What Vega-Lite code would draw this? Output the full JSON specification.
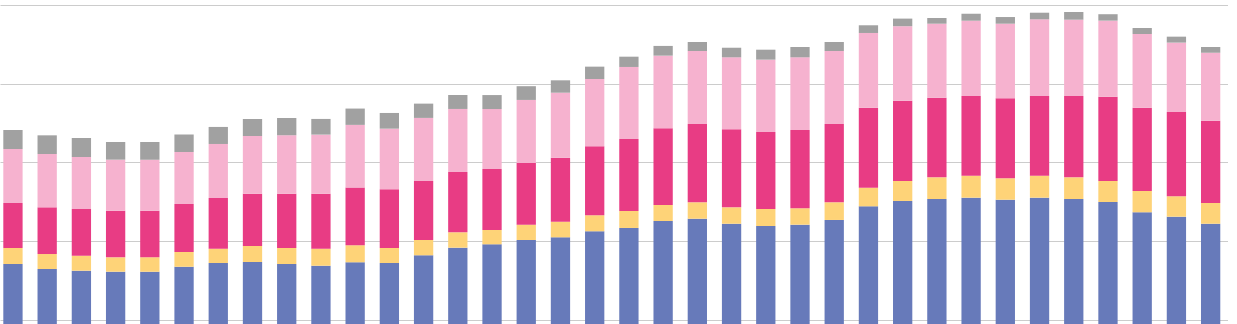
{
  "$schema": "https://vega.github.io/schema/vega-lite/v6.json",
  "width": 1228,
  "height": 324,
  "autosize": "none",
  "padding": 0,
  "background": "white",
  "config": {"view": {"stroke": null}},
  "data": {"values": [
    {"i": 1, "s1": 170.7, "s2": 20.4, "s3": 57.3, "s4": 68.8, "s5": 24.2},
    {"i": 2, "s1": 164.3, "s2": 19.1, "s3": 59.5, "s4": 67.9, "s5": 23.8},
    {"i": 3, "s1": 162.2, "s2": 19.1, "s3": 59.5, "s4": 66.2, "s5": 24.2},
    {"i": 4, "s1": 160.9, "s2": 18.3, "s3": 59.4, "s4": 65.0, "s5": 22.5},
    {"i": 5, "s1": 160.9, "s2": 18.3, "s3": 59.4, "s4": 65.0, "s5": 22.5},
    {"i": 6, "s1": 167.3, "s2": 18.7, "s3": 61.1, "s4": 66.2, "s5": 22.5},
    {"i": 7, "s1": 172.0, "s2": 18.2, "s3": 64.6, "s4": 68.8, "s5": 21.7},
    {"i": 8, "s1": 173.2, "s2": 20.4, "s3": 66.6, "s4": 73.5, "s5": 21.7},
    {"i": 9, "s1": 170.7, "s2": 20.4, "s3": 69.2, "s4": 74.4, "s5": 22.0},
    {"i": 10, "s1": 168.5, "s2": 21.7, "s3": 70.1, "s4": 75.2, "s5": 20.0},
    {"i": 11, "s1": 172.9, "s2": 21.7, "s3": 73.4, "s4": 79.9, "s5": 20.8},
    {"i": 12, "s1": 172.0, "s2": 19.1, "s3": 74.8, "s4": 77.2, "s5": 20.0},
    {"i": 13, "s1": 181.8, "s2": 19.5, "s3": 75.2, "s4": 80.3, "s5": 18.2},
    {"i": 14, "s1": 191.5, "s2": 19.6, "s3": 76.8, "s4": 80.3, "s5": 17.8},
    {"i": 15, "s1": 195.8, "s2": 18.2, "s3": 77.7, "s4": 76.4, "s5": 17.8},
    {"i": 16, "s1": 201.3, "s2": 19.5, "s3": 78.6, "s4": 80.3, "s5": 17.5},
    {"i": 17, "s1": 204.7, "s2": 19.9, "s3": 81.5, "s4": 82.8, "s5": 15.8},
    {"i": 18, "s1": 212.4, "s2": 20.4, "s3": 87.9, "s4": 85.7, "s5": 15.7},
    {"i": 19, "s1": 216.6, "s2": 21.7, "s3": 91.7, "s4": 91.7, "s5": 13.1},
    {"i": 20, "s1": 225.5, "s2": 20.4, "s3": 97.7, "s4": 92.5, "s5": 12.4},
    {"i": 21, "s1": 228.4, "s2": 20.9, "s3": 99.7, "s4": 93.0, "s5": 11.5},
    {"i": 22, "s1": 222.0, "s2": 20.9, "s3": 99.4, "s4": 91.7, "s5": 12.2},
    {"i": 23, "s1": 219.1, "s2": 21.7, "s3": 98.1, "s4": 92.1, "s5": 12.7},
    {"i": 24, "s1": 220.8, "s2": 20.9, "s3": 99.7, "s4": 92.6, "s5": 13.1},
    {"i": 25, "s1": 226.8, "s2": 22.5, "s3": 99.7, "s4": 93.0, "s5": 11.5},
    {"i": 26, "s1": 244.2, "s2": 23.7, "s3": 101.9, "s4": 95.2, "s5": 9.8},
    {"i": 27, "s1": 251.0, "s2": 25.5, "s3": 102.3, "s4": 94.8, "s5": 9.7},
    {"i": 28, "s1": 253.5, "s2": 27.6, "s3": 101.4, "s4": 94.3, "s5": 7.3},
    {"i": 29, "s1": 255.2, "s2": 28.0, "s3": 101.5, "s4": 95.9, "s5": 8.9},
    {"i": 30, "s1": 252.6, "s2": 27.3, "s3": 101.9, "s4": 95.0, "s5": 8.5},
    {"i": 31, "s1": 255.2, "s2": 28.0, "s3": 101.5, "s4": 97.7, "s5": 8.4},
    {"i": 32, "s1": 253.5, "s2": 27.6, "s3": 103.6, "s4": 97.2, "s5": 9.8},
    {"i": 33, "s1": 249.7, "s2": 26.8, "s3": 107.4, "s4": 96.8, "s5": 8.2},
    {"i": 34, "s1": 236.6, "s2": 27.1, "s3": 106.1, "s4": 93.9, "s5": 7.6},
    {"i": 35, "s1": 231.0, "s2": 26.0, "s3": 107.4, "s4": 88.3, "s5": 7.6},
    {"i": 36, "s1": 222.0, "s2": 26.4, "s3": 104.8, "s4": 86.6, "s5": 7.3}
  ]},
  "transform": [
    {"fold": ["s1", "s2", "s3", "s4", "s5"], "as": ["series", "value"]}
  ],
  "mark": {"type": "bar", "clip": true},
  "encoding": {
    "x": {
      "field": "i",
      "type": "ordinal",
      "axis": null,
      "scale": {"paddingInner": 0.436, "paddingOuter": 0.161, "align": 0.3}
    },
    "y": {
      "field": "value",
      "type": "quantitative",
      "stack": "zero",
      "scale": {"domain": [94.27, 507.0], "zero": false, "nice": false},
      "axis": {
        "values": [100, 200, 300, 400, 500],
        "grid": true,
        "gridColor": "#cccccc",
        "gridWidth": 1.2,
        "labels": false,
        "ticks": false,
        "domain": false,
        "title": null
      }
    },
    "color": {
      "field": "series",
      "type": "nominal",
      "legend": null,
      "scale": {
        "domain": ["s1", "s2", "s3", "s4", "s5"],
        "range": ["#677aba", "#fed378", "#e83c84", "#f6b2cf", "#a1a1a1"]
      }
    },
    "order": {"field": "series", "sort": "ascending"}
  }
}
